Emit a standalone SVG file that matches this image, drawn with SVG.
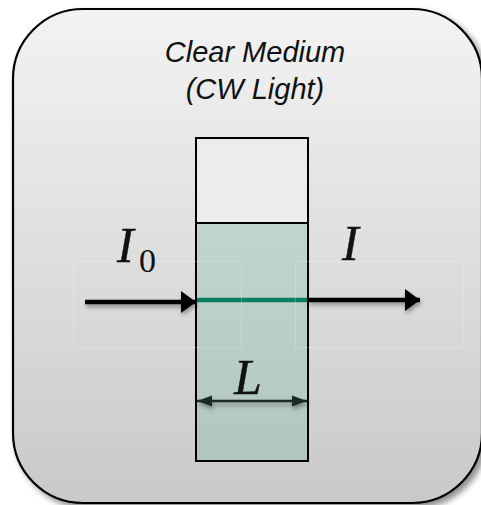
<svg xmlns="http://www.w3.org/2000/svg" width="481" height="505" viewBox="0 0 481 505">
<defs>
<linearGradient id="bg" x1="0" y1="0" x2="0" y2="1">
<stop offset="0" stop-color="#f3f3f3"/>
<stop offset="1" stop-color="#c9c9c9"/>
</linearGradient>
<linearGradient id="cell" x1="0" y1="0" x2="0" y2="1">
<stop offset="0" stop-color="#c0d6cf"/>
<stop offset="1" stop-color="#b0c6be"/>
</linearGradient>
<filter id="sh" x="-10%" y="-10%" width="125%" height="125%">
<feGaussianBlur in="SourceAlpha" stdDeviation="3"/>
<feOffset dx="4" dy="4" result="b"/>
<feComponentTransfer><feFuncA type="linear" slope="0.45"/></feComponentTransfer>
<feMerge><feMergeNode/><feMergeNode in="SourceGraphic"/></feMerge>
</filter>
<filter id="ash" filterUnits="userSpaceOnUse" x="0" y="0" width="481" height="505">
<feGaussianBlur in="SourceAlpha" stdDeviation="2"/>
<feOffset dx="1" dy="3"/>
<feComponentTransfer><feFuncA type="linear" slope="0.35"/></feComponentTransfer>
<feMerge><feMergeNode/><feMergeNode in="SourceGraphic"/></feMerge>
</filter>
<marker id="big" markerUnits="userSpaceOnUse" markerWidth="16" markerHeight="24" refX="15" refY="12" orient="auto">
<path d="M0,1 L15,12 L0,23 Z" fill="#000"/>
</marker>
<marker id="sm" markerUnits="userSpaceOnUse" markerWidth="16" markerHeight="12" refX="15" refY="6" orient="auto-start-reverse">
<path d="M0,0.5 L15,6 L0,11.5 Z" fill="#1b2b26"/>
</marker>
</defs>
<style>
.title{font-family:"Liberation Sans",Arial,sans-serif;font-style:italic;font-size:29px;fill:#111;text-anchor:middle}
.math{font-family:"Liberation Serif","Times New Roman",serif;font-style:italic;fill:#111;stroke:#111;stroke-width:0.4}
.sub{font-family:"Liberation Serif","Times New Roman",serif;fill:#111}
.faint{fill:none;stroke:#ffffff;stroke-opacity:0.22;stroke-width:1}
</style>
<g id="medium">
<rect x="13" y="9" width="469" height="494" rx="70" ry="70" fill="url(#bg)" stroke="#000" stroke-width="2.2" filter="url(#sh)"/>
<text class="title" x="255" y="62">Clear Medium</text>
<text class="title" x="255" y="99">(CW Light)</text>
</g>
<g id="cuvette">
<rect x="196" y="138" width="112" height="85" fill="#ececec" stroke="#000" stroke-width="2"/>
<rect x="196" y="223" width="112" height="238" fill="url(#cell)" stroke="#000" stroke-width="2"/>
<line x1="197" y1="300" x2="307" y2="300" stroke="#0b7f63" stroke-width="4.5"/>
</g>
<g id="guides">
<rect class="faint" x="73.5" y="261.5" width="168" height="86"/>
<rect class="faint" x="295.5" y="261.5" width="168" height="86"/>
</g>
<g id="connectors">
<line x1="85" y1="302" x2="196" y2="302" stroke="#000" stroke-width="4.5" marker-end="url(#big)" filter="url(#ash)"/>
<line x1="308" y1="300" x2="420" y2="300" stroke="#000" stroke-width="4.5" marker-end="url(#big)" filter="url(#ash)"/>
<line x1="197" y1="401" x2="307" y2="401" stroke="#1b2b26" stroke-width="2.5" marker-start="url(#sm)" marker-end="url(#sm)" filter="url(#ash)"/>
</g>
<g id="labels">
<text class="math" x="117" y="262" font-size="50">I</text>
<text class="sub" x="139" y="272" font-size="34">0</text>
<text class="math" x="342" y="260" font-size="50">I</text>
<text class="math" x="234" y="394" font-size="50">L</text>
</g>
</svg>
